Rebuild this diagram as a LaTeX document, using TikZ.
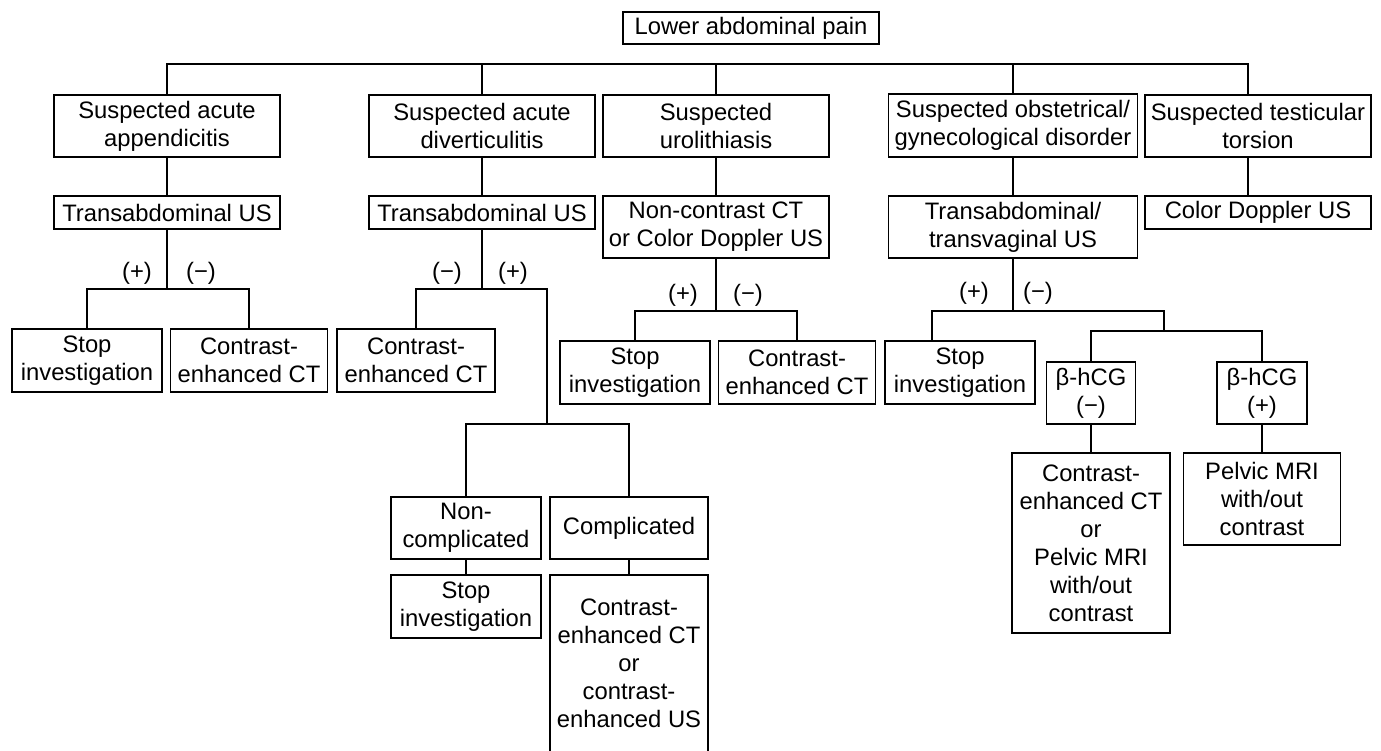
\documentclass[tikz,border=0pt]{standalone}
\usepackage{fontspec}
\setmainfont{Liberation Sans}

\begin{document}
\begin{tikzpicture}[x=1pt,y=-1pt,line width=1.2pt,
  caseta/.style={draw,rectangle,align=center,inner sep=2pt,
    font=\fontsize{23.8pt}{28pt}\selectfont},
  eticheta/.style={inner sep=0pt,font=\fontsize{23.8pt}{28pt}\selectfont}]
  \useasboundingbox (0,0) rectangle (1381,751);

  % start
  \node[caseta,minimum width=256pt,minimum height=32pt] (dur) at (751,28) {Lower abdominal pain};

  % suspiciuni
  \node[caseta,minimum width=226pt,minimum height=62pt] (apd) at (167,126) {Suspected acute\\appendicitis};
  \node[caseta,minimum width=226pt,minimum height=62pt] (div) at (482,126) {Suspected acute\\diverticulitis};
  \node[caseta,minimum width=226pt,minimum height=62pt] (uro) at (716,126) {Suspected\\urolithiasis};
  \node[caseta,minimum width=249pt,minimum height=63pt] (obg) at (1013,125.5) {Suspected obstetrical/\\gynecological disorder};
  \node[caseta,minimum width=226pt,minimum height=62pt] (tes) at (1258,126) {Suspected testicular\\torsion};

  % primul examen
  \node[caseta,minimum width=226pt,minimum height=33pt] (apdus) at (167,212.5) {Transabdominal US};
  \node[caseta,minimum width=226pt,minimum height=33pt] (divus) at (482,212.5) {Transabdominal US};
  \node[caseta,minimum width=226pt,minimum height=62pt] (urotc) at (716,227) {Non-contrast CT\\or Color Doppler US};
  \node[caseta,minimum width=249pt,minimum height=62pt] (obgus) at (1013,227) {Transabdominal/\\transvaginal US};
  \node[caseta,minimum width=226pt,minimum height=33pt] (tesus) at (1258,212.5) {Color Doppler US};

  % rezultate
  \node[caseta,minimum width=150pt,minimum height=63pt] (apdstop) at (87,360.5) {Stop\\investigation};
  \node[caseta,minimum width=157pt,minimum height=63pt] (apdct) at (249,360.5) {Contrast-\\enhanced CT};
  \node[caseta,minimum width=158pt,minimum height=63pt] (divct) at (416,360.5) {Contrast-\\enhanced CT};
  \node[caseta,minimum width=150pt,minimum height=63pt] (urostop) at (635,372.5) {Stop\\investigation};
  \node[caseta,minimum width=157pt,minimum height=63pt] (uroct) at (797,372.5) {Contrast-\\enhanced CT};
  \node[caseta,minimum width=150pt,minimum height=63pt] (obgstop) at (960,372.5) {Stop\\investigation};
  \node[caseta,minimum width=89pt,minimum height=62pt] (bneg) at (1091,393) {β-hCG\\(−)};
  \node[caseta,minimum width=90pt,minimum height=62pt] (bpoz) at (1262,393) {β-hCG\\(+)};
  \node[caseta,minimum width=150pt,minimum height=62pt] (necomp) at (466,528) {Non-\\complicated};
  \node[caseta,minimum width=158pt,minimum height=62pt] (comp) at (629,528) {Complicated};
  \node[caseta,minimum width=150pt,minimum height=63pt] (necompstop) at (466,606.5) {Stop\\investigation};
  \node[caseta,minimum width=158pt,minimum height=177pt] (compct) at (629,663.5) {Contrast-\\enhanced CT\\or\\contrast-\\enhanced US};
  \node[caseta,minimum width=158pt,minimum height=180pt] (bnegres) at (1091,543) {Contrast-\\enhanced CT\\or\\Pelvic MRI\\with/out\\contrast};
  \node[caseta,minimum width=157pt,minimum height=92pt] (bpozres) at (1262,499) {Pelvic MRI\\with/out\\contrast};

  % linia de sus
  \draw (apd.north) |- ([xshift=-10pt]tes.north |- 0,64) -- ([xshift=-10pt]tes.north);
  \foreach \n in {div,uro,obg}
    \draw (\n.north) -- (\n.north |- 0,64);

  % legaturi verticale
  \draw (apd) -- (apdus);
  \draw (div) -- (divus);
  \draw (uro) -- (urotc);
  \draw (obg) -- (obgus);
  \draw ([xshift=-10pt]tes.south) -- ([xshift=-10pt]tesus.north);

  % ramificatii
  \coordinate (fa) at (167,289);
  \coordinate (fd) at (482,289);
  \coordinate (fc) at (547,424);
  \coordinate (fu) at (716,311);
  \coordinate (fo) at (1013,311);
  \coordinate (fb) at (1164,331);
  \draw (apdus) -- (fa);
  \draw (apdstop.north) |- (fa) -| (apdct.north);
  \draw (divus) -- (fd);
  \draw (divct.north) |- (fd) -| (fc);
  \draw (necomp.north) |- (fc) -| (comp.north);
  \draw (necomp) -- (necompstop);
  \draw (comp) -- (compct);
  \draw (urotc) -- (fu);
  \draw (urostop.north) |- (fu) -| (uroct.north);
  \draw (obgus) -- (fo);
  \draw ([xshift=-28pt]obgstop.north) |- (fo) -| (fb);
  \draw (bneg.north) |- (fb) -| (bpoz.north);
  \draw (bneg) -- (bnegres);
  \draw (bpoz) -- (bpozres);

  % etichete
  \node[eticheta] (ap1) at (137,273) {(+)};
  \node[eticheta] (am1) at (201,273) {(−)};
  \node[eticheta] (dm1) at (447,273) {(−)};
  \node[eticheta] (dp1) at (513,273) {(+)};
  \node[eticheta] (up1) at (683,295) {(+)};
  \node[eticheta] (um1) at (748,295) {(−)};
  \node[eticheta] (op1) at (974,293) {(+)};
  \node[eticheta] (om1) at (1038,293) {(−)};
\end{tikzpicture}
\end{document}
